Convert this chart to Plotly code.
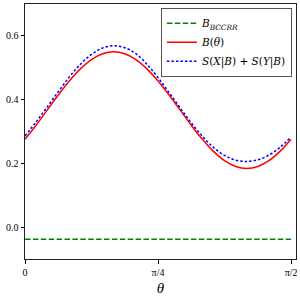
import numpy as np
import plotly.graph_objects as go

theta = [k * np.pi / 48 for k in range(25)]
B_theta = [0.2755, 0.3196, 0.367, 0.4144, 0.4585, 0.4964, 0.5255, 0.5438, 0.550,
           0.5438, 0.5255, 0.4964, 0.4585, 0.4144, 0.367, 0.3196, 0.2755, 0.2376,
           0.2085, 0.1902, 0.184, 0.1902, 0.2085, 0.2376, 0.2755]
S_sum = [0.286, 0.330, 0.377, 0.425, 0.471, 0.511, 0.542, 0.562, 0.569,
         0.563, 0.544, 0.511, 0.469, 0.422, 0.374, 0.327, 0.285, 0.250,
         0.225, 0.210, 0.206, 0.211, 0.226, 0.250, 0.283]
B_bccrr = [-0.038] * len(theta)

x_tickvals = [0, np.pi / 4, np.pi / 2]
x_ticktext = ["0", "π/4", "π/2"]
y_tickvals = [0.0, 0.2, 0.4, 0.6]

FONT = "Liberation Serif"

fig = go.Figure()
fig.add_trace(go.Scatter(x=theta, y=B_bccrr, mode="lines",
                         line=dict(color="green", width=1.5, dash="5.5px,2.4px"),
                         name="<i>B</i><sub><i>BCCRR</i></sub>"))
fig.add_trace(go.Scatter(x=theta, y=B_theta, mode="lines", line_shape="spline",
                         line=dict(color="red", width=1.5),
                         name="<i>B</i>(<i>θ</i>)"))
fig.add_trace(go.Scatter(x=theta, y=S_sum, mode="lines", line_shape="spline",
                         line=dict(color="blue", width=1.5, dash="2.5px,2px"),
                         name="<i>S</i>(<i>X</i>|<i>B</i>) + <i>S</i>(<i>Y</i>|<i>B</i>)"))

fig.update_layout(
    width=300, height=300,
    margin=dict(l=25, r=4, t=4, b=41, autoexpand=False),
    plot_bgcolor="white", paper_bgcolor="white",
    font=dict(family=FONT, size=10, color="black"),
    showlegend=True,
    legend=dict(x=0.985, y=0.985, xanchor="right", yanchor="top",
                bgcolor="rgba(255,255,255,0.9)", bordercolor="#555",
                borderwidth=1, font=dict(family="DejaVu Serif", size=10.5),
                tracegroupgap=0, itemwidth=30),
)
fig.update_xaxes(range=[0, 1.6], tickvals=x_tickvals, ticktext=x_ticktext,
                 ticks="outside", ticklen=3.5, tickcolor="black", automargin=False,
                 showline=True, linecolor="#222", linewidth=1, mirror=True,
                 showgrid=False, zeroline=False, tickfont=dict(size=10),
                 title=dict(text="<i>θ</i>", font=dict(family=FONT, size=15), standoff=5))
fig.update_yaxes(range=[-0.1, 0.7], tickvals=y_tickvals, tickformat=".1f",
                 ticks="outside", ticklen=3.5, tickcolor="black", automargin=False,
                 showline=True, linecolor="#222", linewidth=1, mirror=True,
                 showgrid=False, zeroline=False)

fig.write_html("out.html", config={"displayModeBar": False},
               post_script="document.body.style.margin='0';")
